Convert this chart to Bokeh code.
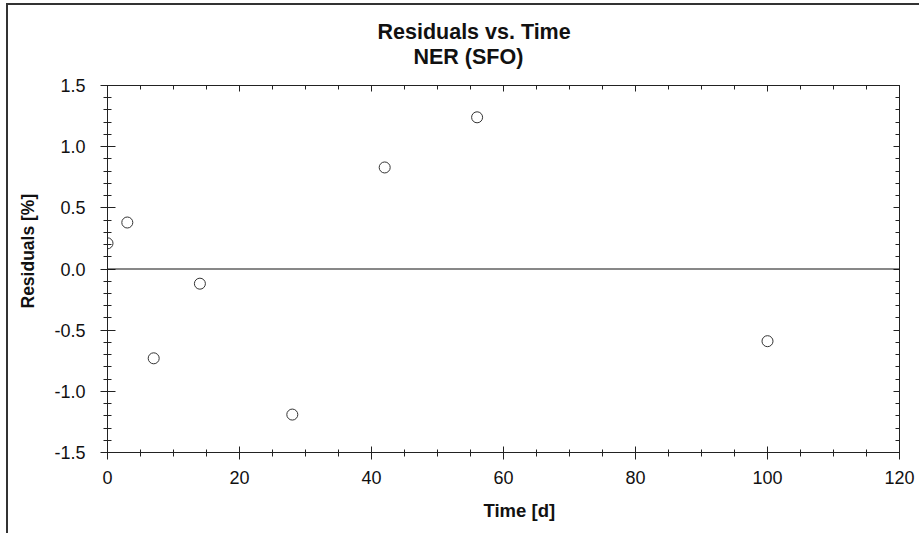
from bokeh.plotting import figure
from bokeh.models import (LinearAxis, SingleIntervalTicker, PrintfTickFormatter,
                          CustomJSTickFormatter, Span, Title, Range1d)
from bokeh.embed import file_html
from bokeh.resources import INLINE

# data
time_d = [0, 3, 7, 14, 28, 42, 56, 100]
residuals = [0.21, 0.38, -0.73, -0.12, -1.19, 0.83, 1.24, -0.59]

title_lines = ["Residuals vs. Time", "NER (SFO)"]
x_label = "Time [d]"
y_label = "Residuals [%]"

FONT = "Liberation Sans"
AX = "#222222"
TXT = "#111111"

p = figure(width=918, height=530, frame_width=792, frame_height=367,
           min_border_left=106, min_border_right=20, min_border_top=82, min_border_bottom=81,
           x_range=Range1d(0, 120), y_range=Range1d(-1.5, 1.5),
           output_backend="svg", toolbar_location=None, x_axis_type=None, y_axis_type=None)
p.xgrid.visible = False
p.ygrid.visible = False
p.outline_line_color = None
p.background_fill_color = "white"
p.border_fill_alpha = 0

xt = SingleIntervalTicker(interval=20, num_minor_ticks=4)
yt = SingleIntervalTicker(interval=0.5, num_minor_ticks=5)
blank = CustomJSTickFormatter(code="return ''")

def style(ax):
    ax.axis_line_color = AX
    ax.major_tick_line_color = AX
    ax.minor_tick_line_color = AX
    ax.axis_line_width = 1
    ax.major_label_text_font = FONT
    ax.major_label_text_font_size = "18px"
    ax.major_label_text_color = TXT

bottom = LinearAxis(ticker=xt, formatter=PrintfTickFormatter(format="%d"))
style(bottom)
bottom.major_tick_out = 7
bottom.major_tick_in = 6
bottom.minor_tick_out = 4
bottom.minor_tick_in = 3
bottom.major_label_standoff = 11
p.add_layout(bottom, "below")

left = LinearAxis(ticker=yt, formatter=PrintfTickFormatter(format="%.1f"))
style(left)
left.major_tick_out = 7
left.major_tick_in = 8
left.minor_tick_out = 4
left.minor_tick_in = 4
left.major_label_standoff = 15
p.add_layout(left, "left")

top = LinearAxis(ticker=xt, formatter=blank)
style(top)
top.major_tick_out = 0
top.major_tick_in = 6
top.minor_tick_out = 0
top.minor_tick_in = 4
top.major_label_standoff = 0
top.major_label_text_font_size = "0px"
p.add_layout(top, "above")

right = LinearAxis(ticker=yt, formatter=blank)
style(right)
right.major_tick_out = 0
right.major_tick_in = 6
right.minor_tick_out = 0
right.minor_tick_in = 4
right.major_label_standoff = 0
right.major_label_text_font_size = "0px"
p.add_layout(right, "right")

p.add_layout(Span(location=0, dimension="width", line_color="#111111", line_width=1))

p.scatter(time_d, residuals, marker="circle", size=11, fill_color="white",
          line_color="#333333", line_width=1)

# titles
p.add_layout(Title(text=title_lines[1], text_font=FONT, text_font_size="21.5px",
                   text_font_style="bold", text_color=TXT, align="left", offset=306,
                   standoff=34), "above")
p.add_layout(Title(text=title_lines[0], text_font=FONT, text_font_size="21.5px",
                   text_font_style="bold", text_color=TXT, align="left", offset=270,
                   standoff=-36), "above")

# axis titles
p.add_layout(Title(text=x_label, text_font=FONT, text_font_size="18.5px",
                   text_font_style="bold", text_color=TXT, align="left", offset=376,
                   standoff=22), "below")
p.add_layout(Title(text=y_label, text_font=FONT, text_font_size="17.5px",
                   text_font_style="bold", text_color=TXT, align="left", offset=144,
                   standoff=28), "left")

# outer frame lines (left and top) drawn as element background
p.styles = {"margin-left": "1px", "margin-top": "3px",
            "background-color": "white",
            "background-image": "linear-gradient(#333333, #333333), linear-gradient(#333333, #333333)",
            "background-size": "2px 100%, 100% 2px",
            "background-position": "5px 0px, 5px 0px",
            "background-repeat": "no-repeat"}

open("out.html", "w").write(file_html(p, INLINE))
